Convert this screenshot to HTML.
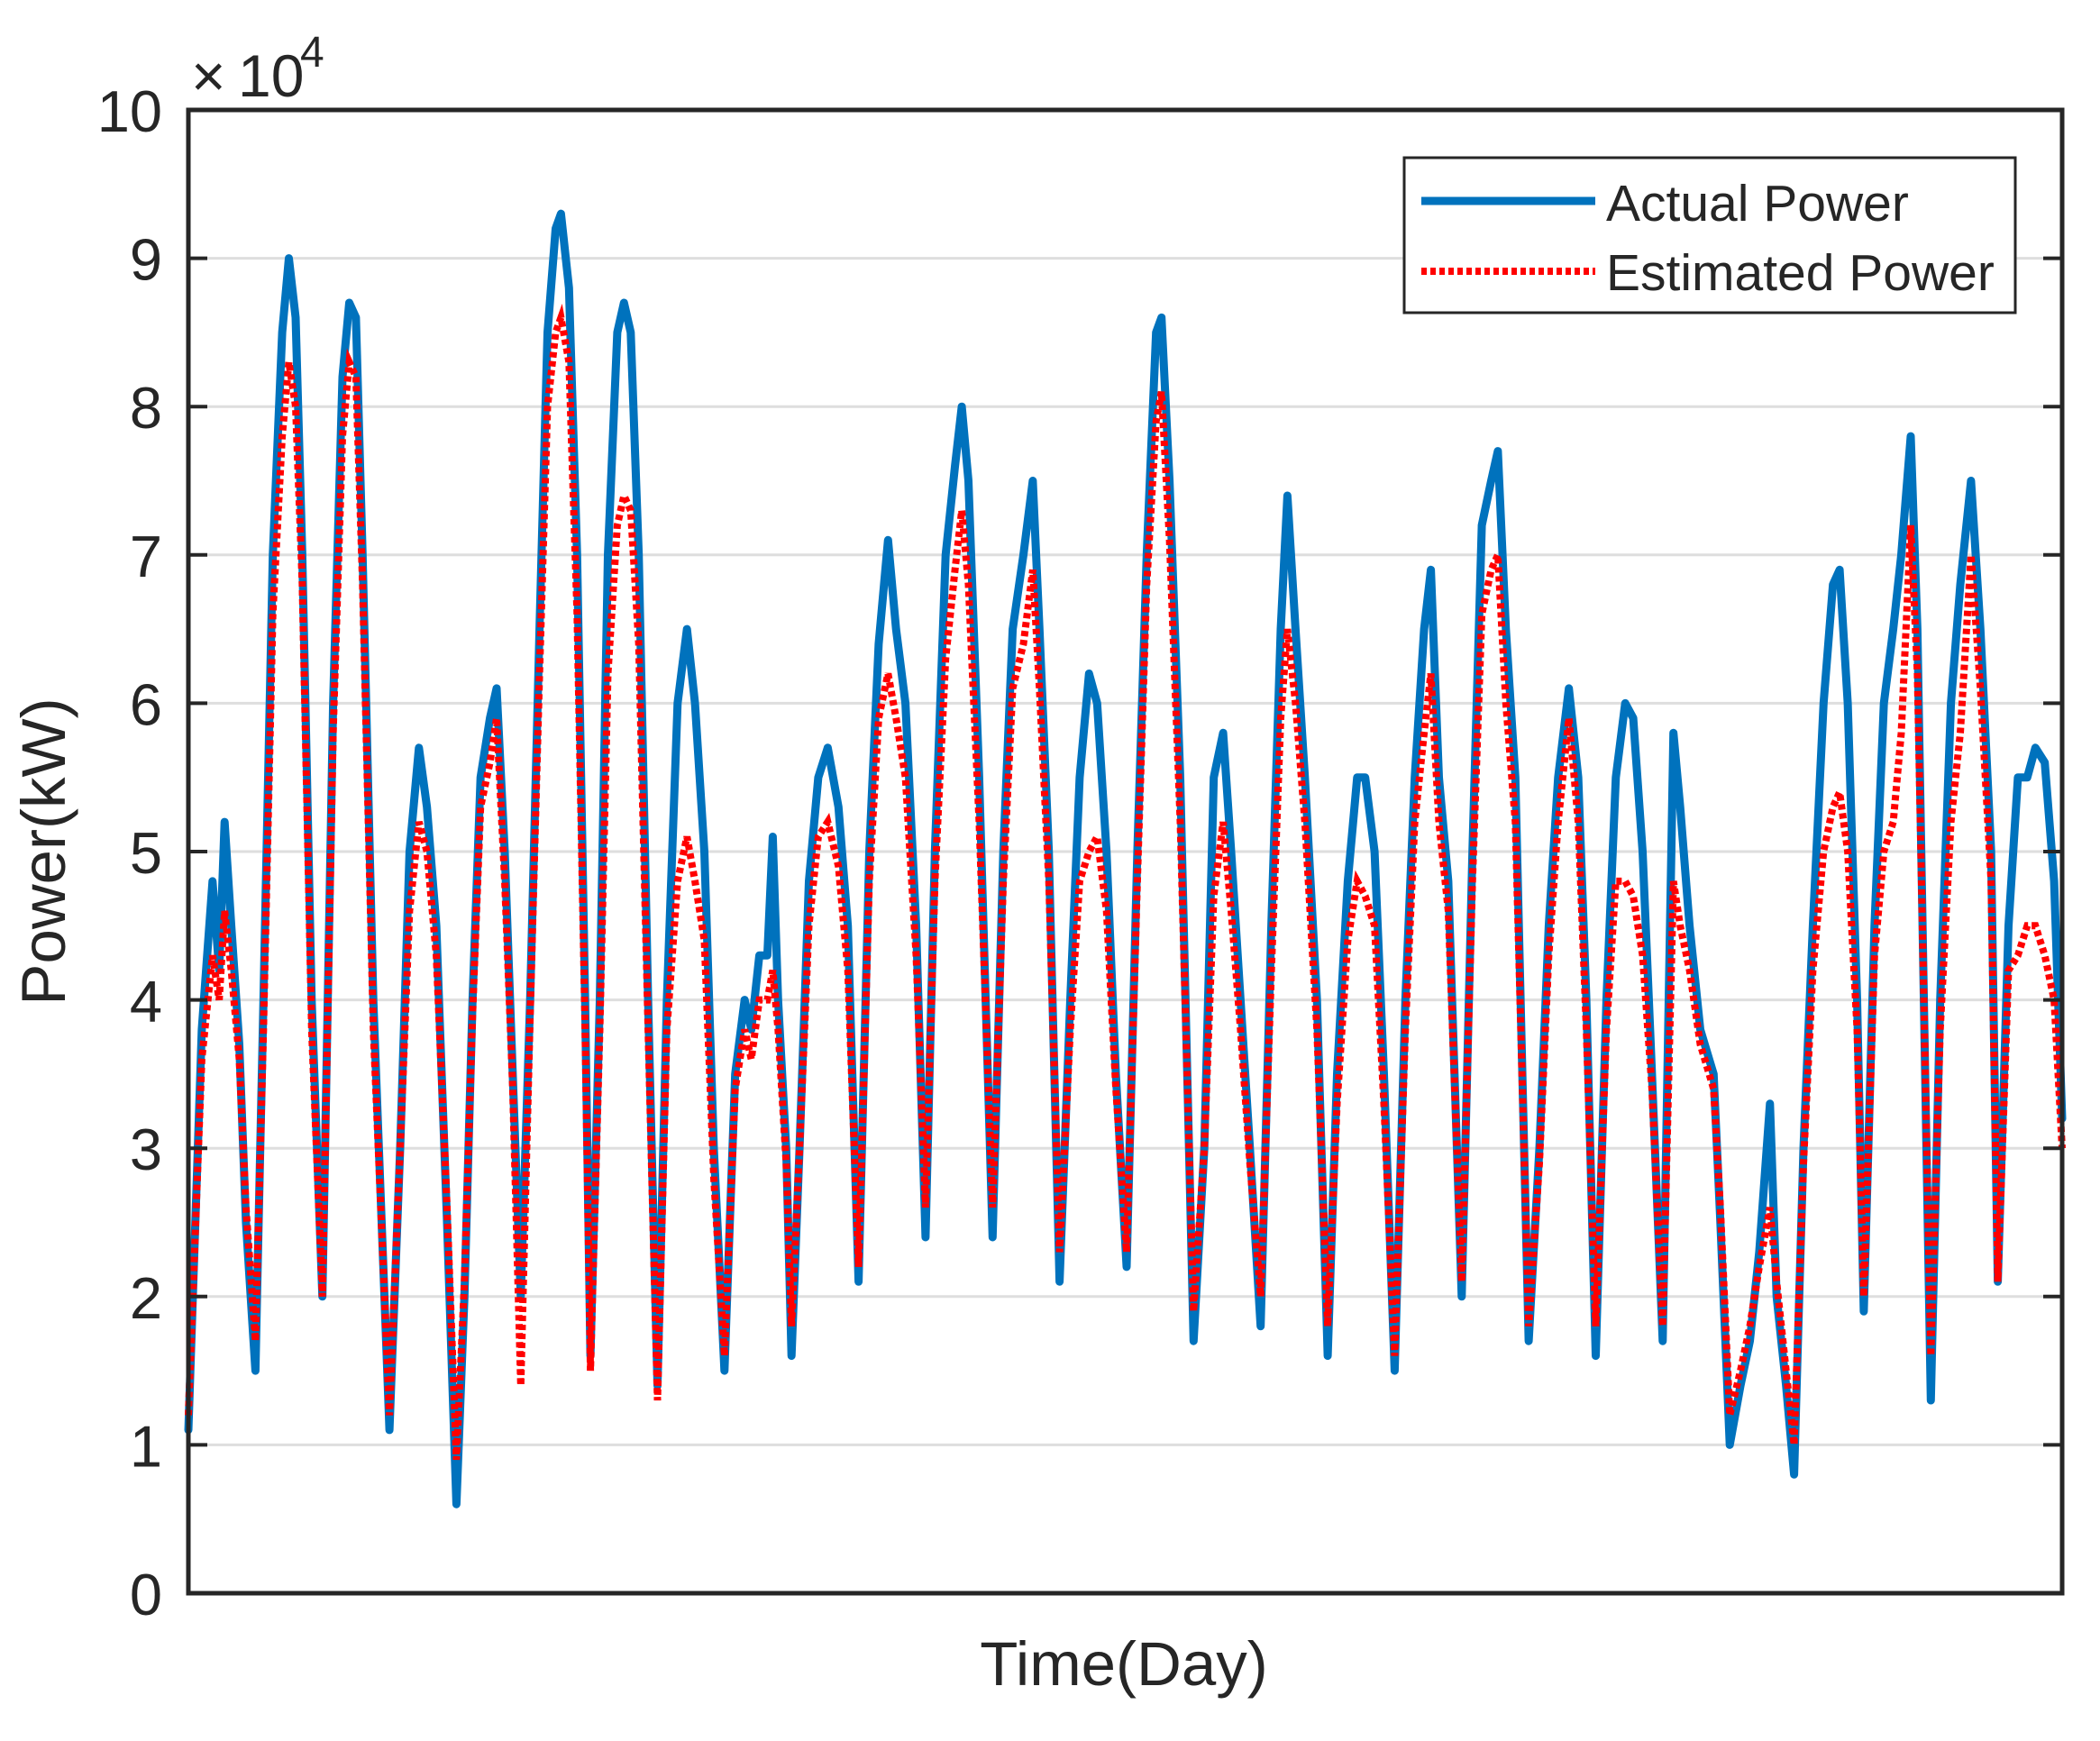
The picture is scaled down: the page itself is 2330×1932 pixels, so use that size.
<!DOCTYPE html>
<html><head><meta charset="utf-8"><style>
html,body{margin:0;padding:0;background:#fff}
svg{display:block}
text{font-family:"Liberation Sans",Arial,sans-serif;fill:#262626}
</style></head><body>
<svg id="chart" width="2330" height="1932" viewBox="0 0 2330 1932" xmlns="http://www.w3.org/2000/svg">
<g id="grid"></g>
<g id="series"></g>
<rect x="209" y="122" width="2079" height="1646" fill="none" stroke="#262626" stroke-width="5"/>
<g id="ticks"></g>
<g>
<text x="212" y="107" font-size="66">×</text>
<text x="264" y="107" font-size="66">10</text>
<text x="333" y="74" font-size="48">4</text>
</g>
<text transform="translate(72,945) rotate(-90)" text-anchor="middle" font-size="69">Power(kW)</text>
<text x="1247" y="1870" text-anchor="middle" font-size="69">Time(Day)</text>
<g>
<rect x="1558" y="175" width="678" height="172" fill="#fff" stroke="#262626" stroke-width="3"/>
<g>
<line x1="1577" y1="223" x2="1770" y2="223" stroke="#0072BD" stroke-width="9"/>
<text x="1782" y="245" font-size="57">Actual Power</text></g>
<g>
<line x1="1577" y1="301" x2="1770" y2="301" stroke="#FF0000" stroke-width="8" stroke-dasharray="6 4"/>
<text x="1782" y="322" font-size="57">Estimated Power</text></g>
</g>
</svg>
<script>
const sampleIndex=[0,10,18,23,27,32,38,43,50,56,63,70,75,80,85,92,100,108,115,120,125,130,138,150,158,165,172,178,185,193,200,206,212,218,225,230,236,242,248,255,262,268,274,278,284,290,296,300,307,313,320,325,330,336,343,350,357,365,372,378,385,392,400,408,415,420,426,432,436,440,446,450,456,463,470,477,485,492,500,508,515,522,528,535,543,550,557,565,572,577,582,590,600,608,615,623,630,635,642,650,658,665,672,678,685,692,700,708,715,722,726,732,740,750,758,765,772,778,785,792,800,808,815,820,826,833,842,850,857,865,872,878,885,892,900,908,915,922,927,933,940,950,958,965,972,977,983,990,1000,1008,1015,1022,1030,1037,1043,1050,1058,1065,1072,1078,1085,1092,1100,1108,1113,1120,1128,1138,1143,1150,1158,1165,1172,1180,1185,1192,1198,1205,1212,1220,1227,1232,1238,1245,1250,1258,1265,1272,1278,1285,1290,1300,1307,1315,1322,1330,1337,1345,1350,1358,1365,1372,1378,1385,1392,1398];
const actualPower=[1.1,3.8,4.8,4.2,5.2,4.5,3.7,2.5,1.5,4,7,8.5,9.0,8.6,7,4,2.0,6,8.2,8.7,8.6,7,4,1.1,3,5,5.7,5.3,4.5,2.5,0.6,2,4,5.5,5.9,6.1,5,3.5,2.0,4,6.5,8.5,9.2,9.3,8.8,7,4,1.6,4,7,8.5,8.7,8.5,7,4,1.4,4,6,6.5,6,5,3,1.5,3.5,4,3.8,4.3,4.3,5.1,4,3,1.6,3,4.8,5.5,5.7,5.3,4.5,2.1,5,6.4,7.1,6.5,6,4.5,2.4,5,7,7.6,8.0,7.5,5.5,2.4,5,6.5,7.0,7.5,6.5,5,2.1,4,5.5,6.2,6.0,5,3.5,2.2,5,7,8.5,8.6,7.5,5.5,1.7,3,5.5,5.8,5,4,3,1.8,4.5,6.5,7.4,6.5,5.5,4,1.6,3.5,4.8,5.5,5.5,5,3.5,1.5,4,5.5,6.5,6.9,5.5,4.8,2.0,5,7.2,7.5,7.7,6.5,5.5,1.7,3,4.5,5.5,6.1,5.5,4,1.6,4,5.5,6.0,5.9,5,3.5,1.7,5.8,5.3,4.5,3.8,3.5,2.5,1.0,1.4,1.7,2.3,3.3,2,1.4,0.8,3,4.5,6.0,6.8,6.9,6.0,4,1.9,4.5,6.0,6.5,7.0,7.8,6.5,1.3,4,6,6.8,7.5,6.5,5,2.1,4.5,5.5,5.5,5.7,5.6,4.8,3.2];
const estimatedPower=[1.2,3.6,4.3,4.0,4.6,4.2,3.6,2.6,1.7,3.8,6.6,7.8,8.3,8.0,6.8,3.8,2.0,5.8,7.8,8.3,8.2,6.8,3.8,1.2,3,4.6,5.2,5.0,4.3,2.6,0.9,2.1,3.9,5.3,5.6,5.9,4.8,3.4,1.4,3.9,6.2,8.0,8.5,8.6,8.3,6.6,3.8,1.5,3.8,6.2,7.2,7.4,7.3,6.4,3.8,1.3,3.8,4.8,5.1,4.8,4.4,2.8,1.6,3.4,3.8,3.6,4.0,4.0,4.2,3.8,2.9,1.8,3,4.5,5.1,5.2,4.9,4.2,2.2,4.8,5.9,6.2,5.9,5.5,4.3,2.6,4.8,6.3,6.9,7.3,6.8,5.2,2.6,4.8,6.1,6.4,6.9,6.1,4.8,2.3,3.8,4.8,5.0,5.1,4.6,3.4,2.3,4.8,6.8,7.9,8.1,7.1,5.2,1.9,3,4.7,5.2,4.6,3.8,2.9,2.0,4.2,5.9,6.5,6.0,5.2,3.8,1.8,3.3,4.4,4.8,4.7,4.5,3.3,1.6,3.8,5.2,5.8,6.2,5.2,4.6,2.1,4.8,6.6,6.9,7.0,6.0,5.2,1.8,2.9,4.3,5.2,5.9,5.2,3.8,1.8,3.8,4.8,4.8,4.7,4.3,3.4,1.8,4.8,4.5,4.2,3.7,3.4,2.6,1.2,1.5,1.8,2.2,2.6,2.1,1.5,1.0,2.9,4.2,5.0,5.3,5.4,5.0,3.8,2.0,4.3,5.0,5.2,5.8,7.2,6.2,1.6,3.8,5.2,5.8,7.0,6.1,4.8,2.1,4.2,4.3,4.5,4.5,4.3,4.0,3.0];
const yTicks=[0,1,2,3,4,5,6,7,8,9,10];
const yTickLabels=["0","1","2","3","4","5","6","7","8","9","10"];
const X0=209,X1=2288,Y0=1768,Y1=122;
const xScale=v=>X0+(v-0)/(1398-0)*(X1-X0);
const yScale=v=>Y0-(v-0)/(10-0)*(Y0-Y1);
const NS="http://www.w3.org/2000/svg";
const grid=document.getElementById('grid'),ticks=document.getElementById('ticks'),series=document.getElementById('series');
yTicks.forEach((t,i)=>{
  const y=yScale(t);
  if(t>0&&t<10){
    const g=document.createElementNS(NS,'line');
    
    
    g.setAttribute('x1',X0);g.setAttribute('x2',X1);g.setAttribute('y1',y);g.setAttribute('y2',y);
    g.setAttribute('stroke','#dedede');g.setAttribute('stroke-width','3');
    grid.appendChild(g);
  }
  [[X0,X0+21],[X1-21,X1]].forEach(p=>{
    const tk=document.createElementNS(NS,'line');
    
    
    tk.setAttribute('x1',p[0]);tk.setAttribute('x2',p[1]);tk.setAttribute('y1',y);tk.setAttribute('y2',y);
    tk.setAttribute('stroke','#262626');tk.setAttribute('stroke-width','4');
    ticks.appendChild(tk);
  });
  const lb=document.createElementNS(NS,'text');
  
  
  lb.setAttribute('x',180);lb.setAttribute('y',y+24);
  lb.setAttribute('text-anchor','end');lb.setAttribute('font-size','65');
  lb.textContent=yTickLabels[i];
  ticks.appendChild(lb);
});
function pathFor(vals){return sampleIndex.map((s,i)=>(i?'L':'M')+xScale(s).toFixed(1)+','+yScale(vals[i]).toFixed(1)).join(' ');}
const a=document.createElementNS(NS,'path');


a.setAttribute('d',pathFor(actualPower));
a.setAttribute('fill','none');a.setAttribute('stroke','#0072BD');a.setAttribute('stroke-width','9');a.setAttribute('stroke-linejoin','round');a.setAttribute('stroke-linecap','round');
series.appendChild(a);
const e=document.createElementNS(NS,'path');


e.setAttribute('d',pathFor(estimatedPower));
e.setAttribute('fill','none');e.setAttribute('stroke','#FF0000');e.setAttribute('stroke-width','8');e.setAttribute('stroke-dasharray','6 4');
series.appendChild(e);
</script>
</body></html>
